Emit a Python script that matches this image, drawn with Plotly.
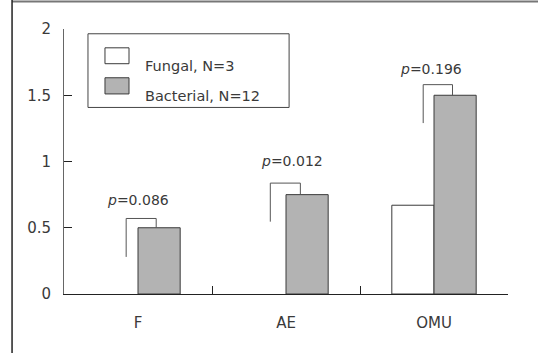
import plotly.graph_objects as go

categories = ["F", "AE", "OMU"]
fungal = [0, 0, 0.67]
bacterial = [0.5, 0.75, 1.5]
series_names = ["Fungal, N=3", "Bacterial, N=12"]
p_labels = ["0.086", "0.012", "0.196"]
# bracket geometry (category offsets and y values)
br_left_off = [-0.08, -0.106, -0.073]
br_right_off = [0.123, 0.097, 0.125]
br_low = [0.28, 0.546, 1.29]
br_top = [0.57, 0.837, 1.58]
p_x_off = [0.0, 0.04, -0.02]
p_y = [0.71, 1.005, 1.70]
y_ticks = [0, 0.5, 1, 1.5, 2]
y_ticktext = ["0", "0.5", "1", "1.5", "2"]

FONT = "DejaVu Sans"
TXT = "#3a3a3a"
EDGE = "#3a3a3a"

fig = go.Figure()
fig.add_trace(go.Bar(x=categories, y=fungal, name=series_names[0],
                     marker=dict(color="white",
                                 line=dict(color=EDGE, width=[1 if v > 0 else 0 for v in fungal])),
                     showlegend=False))
fig.add_trace(go.Bar(x=categories, y=bacterial, name=series_names[1],
                     marker=dict(color="#b3b3b3", line=dict(color=EDGE, width=1)),
                     showlegend=False))

# significance brackets
for i in range(len(categories)):
    xl = i + br_left_off[i]
    xr = i + br_right_off[i]
    fig.add_trace(go.Scatter(
        x=[xl, xl, xr, xr], y=[br_low[i], br_top[i], br_top[i], bacterial[i]],
        mode="lines", line=dict(color="#555555", width=1),
        xaxis="x2", showlegend=False, hoverinfo="skip"))
    fig.add_annotation(x=i + p_x_off[i], y=p_y[i], xref="x2", yref="y",
                       text="<i>p</i>=" + p_labels[i], showarrow=False,
                       font=dict(family=FONT, size=14, color=TXT))

fig.update_layout(
    width=538, height=353,
    margin=dict(l=64, r=30, t=29, b=59),
    paper_bgcolor="white", plot_bgcolor="white",
    barmode="group", bargap=0.43, bargroupgap=0,
    font=dict(family=FONT, size=14, color=TXT),
    xaxis=dict(type="category", range=[-0.5, 2.5], showline=True,
               linecolor="#222222", linewidth=1, ticks="inside", ticklen=8,
               tickcolor="#222222", tickson="boundaries", showgrid=False,
               zeroline=False, ticklabelstandoff=15,
               tickfont=dict(family=FONT, size=15, color=TXT)),
    xaxis2=dict(range=[-0.5, 2.5], overlaying="x", visible=False),
    yaxis=dict(range=[0, 2], tickvals=y_ticks, ticktext=y_ticktext,
               showline=True, linecolor="#666666", linewidth=1,
               ticks="inside", ticklen=8, tickcolor="#222222",
               showgrid=False, zeroline=False, ticklabelstandoff=9,
               tickfont=dict(family=FONT, size=15, color=TXT)),
)

# outer frame (top and left)
fig.add_shape(type="line", xref="paper", yref="paper",
              x0=-0.117, x1=1.1, y0=1.1035, y1=1.1035,
              line=dict(color="#777777", width=2))
fig.add_shape(type="line", xref="paper", yref="paper",
              x0=-0.117, x1=-0.117, y0=1.11, y1=-0.23,
              line=dict(color="#222222", width=1.5))

# legend (drawn manually)
fig.add_shape(type="rect", xref="paper", yref="paper",
              x0=0.054, x1=0.507, y0=0.704, y1=0.982,
              line=dict(color="#444444", width=1), fillcolor="white")
fig.add_shape(type="rect", xref="paper", yref="paper",
              x0=0.0923, x1=0.1464, y0=0.869, y1=0.929,
              line=dict(color=EDGE, width=1), fillcolor="white")
fig.add_shape(type="rect", xref="paper", yref="paper",
              x0=0.0923, x1=0.1464, y0=0.755, y1=0.816,
              line=dict(color=EDGE, width=1), fillcolor="#b3b3b3")
fig.add_annotation(x=0.178, y=0.899, xref="paper", yref="paper", xanchor="left",
                   text=series_names[0], showarrow=False,
                   font=dict(family=FONT, size=14.5, color=TXT))
fig.add_annotation(x=0.178, y=0.786, xref="paper", yref="paper", xanchor="left",
                   text=series_names[1], showarrow=False,
                   font=dict(family=FONT, size=14.5, color=TXT))

fig.write_html("out.html")
